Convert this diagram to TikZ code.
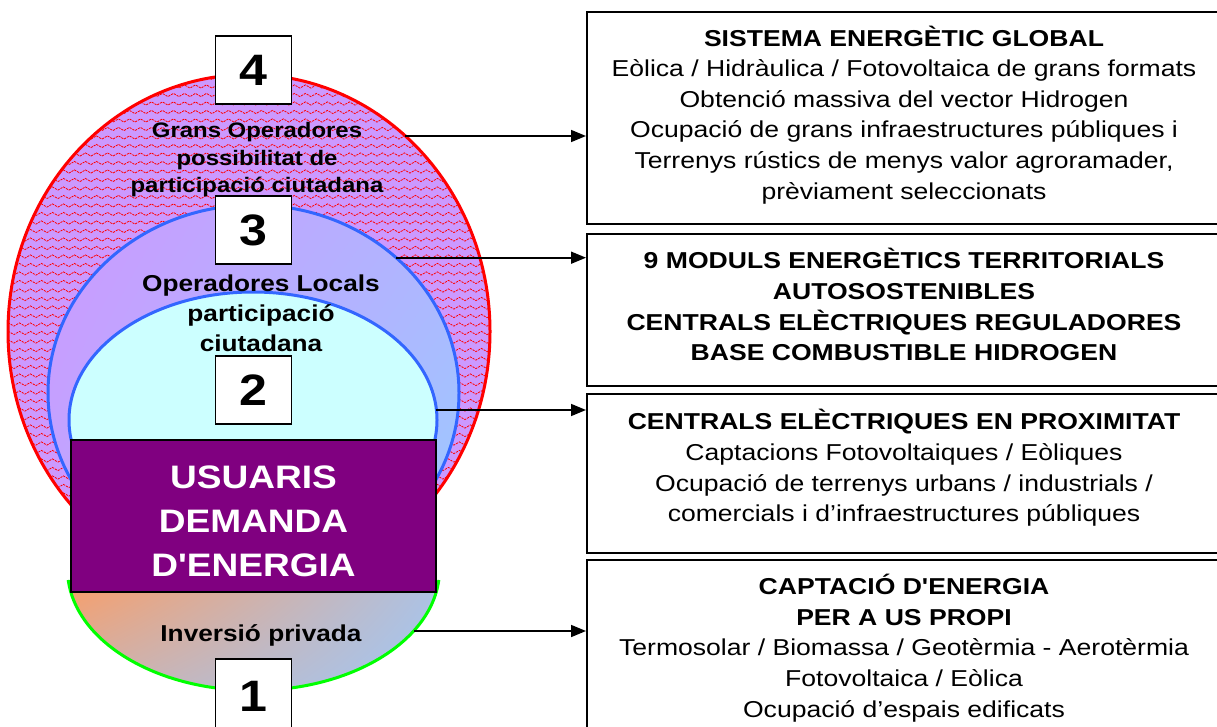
\documentclass[tikz,border=0pt]{standalone}
\usepackage{fontspec}
\setmainfont{Liberation Sans}[Ligatures=TeXOff]
\newfontfamily\lfont{Liberation Sans}[FakeStretch=1.14,Ligatures=TeXOff]
\newfontfamily\rfont{Liberation Sans}[FakeStretch=1.155,Ligatures=TeXOff]
\usetikzlibrary{decorations.pathmorphing,arrows.meta,shadings}
\definecolor{lav}{RGB}{204,153,255}
\definecolor{lblue}{RGB}{153,204,255}
\definecolor{bborder}{RGB}{51,102,255}
\definecolor{cyanfill}{RGB}{204,255,255}
\definecolor{purp}{RGB}{128,0,128}
\definecolor{salmon}{RGB}{244,160,112}
\definecolor{lsky}{RGB}{160,200,248}
\definecolor{gborder}{RGB}{0,255,0}
\begin{document}
\begin{tikzpicture}[x=1pt,y=-1pt,
  numbox/.style={draw=black, line width=1.5pt, fill=white, minimum width=76pt, minimum height=68pt, inner sep=0pt, font=\lfont\bfseries\fontsize{44}{44}\selectfont},
  rbox/.style={draw=black, line width=2pt, fill=white, minimum width=638pt, inner sep=0pt},
  rtext/.style={align=center, inner sep=0pt, font=\rfont\fontsize{23}{30.6}\selectfont},
  ltext/.style={align=center, inner sep=0pt, font=\lfont\bfseries\fontsize{21}{27.5}\selectfont},
  mtext/.style={align=center, inner sep=0pt, font=\lfont\bfseries\fontsize{23}{30}\selectfont},
  conn/.style={line width=1.6pt, -{Triangle[length=15pt,width=12pt]}},
  wave/.style={red, line width=0.8pt, dash pattern=on 2.2pt off 1pt, decorate, decoration={snake, segment length=11pt, amplitude=1.6pt}}
]
\useasboundingbox (0,0) rectangle (1217,727);
\fill[white] (0,0) rectangle (1217,727);

% level 4 : red ellipse with wave pattern
\fill[lav] (249,331.5) ellipse [x radius=241, y radius=257];
\begin{scope}
  \clip (249,331.5) ellipse [x radius=241, y radius=257];
  \foreach \yy in {78,86.5,...,592} \draw[wave] (5,\yy) -- (495,\yy);
\end{scope}
\draw[red, line width=3pt] (249,331.5) ellipse [x radius=241, y radius=257];

% level 3 : blue ellipse
\shade[upper left=lav, lower left=lav!75!lblue, upper right=lav!45!lblue, lower right=lblue]
  (253.5,393) ellipse [x radius=205.5, y radius=188];
\draw[bborder, line width=3pt] (253.5,393) ellipse [x radius=205.5, y radius=188];

% level 2 : cyan ellipse
\draw[bborder, line width=3pt, fill=cyanfill] (253,420) ellipse [x radius=184, y radius=128];

% level 1 : lower half ellipse
\shade[upper left=salmon, lower left=salmon!50!lsky, upper right=lsky!85!salmon, lower right=lsky]
  (436.4,592) arc [start angle=10.47, end angle=169.53, x radius=186, y radius=121] -- cycle;
\draw[gborder, line width=3pt] (438.8,580) arc [start angle=5, end angle=175, x radius=186, y radius=121];

% users box
\node[draw=black, line width=1.2pt, fill=purp, minimum width=365pt, minimum height=152pt, inner sep=0pt] (users) at (253.5,516) {};
\node[align=center, inner sep=0pt, text=white, font=\lfont\bfseries\fontsize{32.5}{44}\selectfont] (userstxt) at (253.5,521) {USUARIS\\DEMANDA\\D'ENERGIA};

% number boxes
\node[numbox] (n4) at (253.5,70) {4};
\node[numbox] (n3) at (253.5,230) {3};
\node[numbox] (n2) at (253.5,390) {2};
\node[numbox, minimum height=80pt] (n1) at (253.5,699) {\raisebox{6pt}{1}};

% level labels
\node[ltext] (l4) at (257,160) {Grans Operadores\\possibilitat de\\participació ciutadana};
\node[mtext] (l3) at (261,313) {Operadores Locals\\participació\\ciutadana};
\node[mtext, anchor=base] (l1) at (261,641) {Inversió privada};

% right boxes
\node[rbox, minimum height=212pt] (boxA) at (906,118) {};
\node[rbox, minimum height=152pt] (boxB) at (906,310) {};
\node[rbox, minimum height=159pt] (boxC) at (906,473.5) {};
\node[rbox, minimum height=180pt] (boxD) at (906,650) {};

\node[rtext] (tA) at (904,114.7) {\textbf{SISTEMA ENERGÈTIC GLOBAL}\\Eòlica / Hidràulica / Fotovoltaica de grans formats\\Obtenció massiva del vector Hidrogen\\Ocupació de grans infraestructures públiques i\\Terrenys rústics de menys valor agroramader,\\prèviament seleccionats};
\node[rtext, font=\rfont\bfseries\fontsize{23}{30.6}\selectfont] (tB) at (904,304.7) {9 MODULS ENERGÈTICS TERRITORIALS\\AUTOSOSTENIBLES\\CENTRALS ELÈCTRIQUES REGULADORES\\BASE COMBUSTIBLE HIDROGEN};
\node[rtext] (tC) at (904,468) {\textbf{CENTRALS ELÈCTRIQUES EN PROXIMITAT}\\Captacions Fotovoltaiques / Eòliques\\Ocupació de terrenys urbans / industrials /\\comercials i d’infraestructures públiques};
\node[rtext] (tD) at (904,648) {\textbf{CAPTACIÓ D'ENERGIA}\\\textbf{PER A US PROPI}\\Termosolar / Biomassa / Geotèrmia - Aerotèrmia\\Fotovoltaica / Eòlica\\Ocupació d’espais edificats};

% connectors
\coordinate (s4) at (405,136);
\coordinate (s3) at (396,257.7);
\coordinate (s2) at (436.4,410);
\coordinate (s1) at (414,631);
\draw[conn] (s4) -- (s4 -| boxA.west);
\draw[conn] (s3) -- (s3 -| boxB.west);
\draw[conn] (s2) -- (s2 -| boxC.west);
\draw[conn] (s1) -- (s1 -| boxD.west);
\end{tikzpicture}
\end{document}
